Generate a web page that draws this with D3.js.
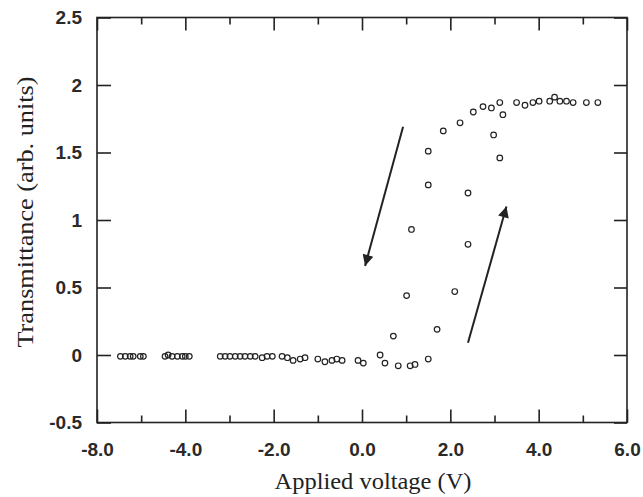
<!DOCTYPE html>
<html>
<head>
<meta charset="utf-8">
<script src="https://cdn.jsdelivr.net/npm/d3@7"></script>
<style>
  html, body { margin: 0; padding: 0; background: #fff; }
  svg { display: block; }
</style>
</head>
<body>
<div id="chart"></div>
<script>
// ---- data ----
// Increasing-voltage sweep
const upVoltage = [-5.47, -5.25, -5.02, -4.46, -4.30, -4.07, -3.91, -3.21, -2.99, -2.76, -2.53, -2.26, -2.03, -1.81, -1.56, -1.29, -1.00, -0.68, -0.45, 0.03, 0.52, 0.82, 1.09, 1.20, 1.50, 1.70, 2.10, 2.40, 2.40, 3.12, 2.98, 3.19, 3.50, 3.87, 4.25, 4.48, 4.78, 5.34];
const upTransmittance = [-0.01, -0.01, -0.01, -0.01, -0.01, -0.01, -0.01, -0.01, -0.01, -0.01, -0.01, -0.02, -0.01, -0.01, -0.04, -0.02, -0.03, -0.04, -0.04, -0.06, -0.06, -0.08, -0.08, -0.07, -0.03, 0.19, 0.47, 0.82, 1.20, 1.46, 1.63, 1.78, 1.87, 1.87, 1.88, 1.88, 1.87, 1.87];
// Decreasing-voltage sweep
const downVoltage = [5.08, 4.63, 4.36, 4.01, 3.69, 3.12, 2.93, 2.74, 2.52, 2.22, 1.84, 1.50, 1.50, 1.12, 1.01, 0.71, 0.41, -0.09, -0.57, -0.84, -1.40, -1.69, -2.15, -2.42, -2.65, -2.87, -3.10, -4.00, -4.18, -4.39, -4.95, -5.18, -5.36];
const downTransmittance = [1.87, 1.88, 1.91, 1.88, 1.85, 1.87, 1.83, 1.84, 1.80, 1.72, 1.66, 1.51, 1.26, 0.93, 0.44, 0.14, 0.00, -0.04, -0.03, -0.05, -0.03, -0.02, -0.01, -0.01, -0.01, -0.01, -0.01, -0.01, -0.01, 0.00, -0.01, -0.01, -0.01];

// Sweep-direction arrows: start and tip, in data units
const arrowStart = [[0.93, 1.69], [2.40, 0.09]];
const arrowEnd = [[0.07, 0.66], [3.27, 1.10]];

// Axes
const xDomain = [-6, 6];
const yDomain = [-0.5, 2.5];
const xMajorTicks = [-6, -4, -2, 0, 2, 4, 6];
const xTickLabels = ["-8.0", "-4.0", "-2.0", "0.0", "2.0", "4.0", "6.0"];
const xMinorTicks = [-5, -3, -1, 1, 3, 5];
const yTicks = [-0.5, 0, 0.5, 1, 1.5, 2, 2.5];
const yTickLabels = ["-0.5", "0", "0.5", "1", "1.5", "2", "2.5"];
const xTitle = "Applied voltage (V)";
const yTitle = "Transmittance (arb. units)";

// ---- layout ----
const W = 643, H = 497;
const pL = 97, pR = 627, pT = 17.5, pB = 422.5;

const svg = d3.select("#chart").append("svg")
  .attr("width", W).attr("height", H);

const x = d3.scaleLinear().domain(xDomain).range([pL, pR]);
const y = d3.scaleLinear().domain(yDomain).range([pB, pT]);

const ink = "#222";
const tickInk = "#2a2a2a";
const tickFont = "'Liberation Sans', Arial, sans-serif";

// Frame
svg.append("rect")
  .attr("x", pL).attr("y", pT)
  .attr("width", pR - pL).attr("height", pB - pT)
  .attr("fill", "none").attr("stroke", ink).attr("stroke-width", 1.6);

const majorLen = 13, minorLen = 7;

function styleTicks(g) {
  g.select(".domain").remove();
  g.selectAll(".tick line").attr("stroke", ink).attr("stroke-width", 1.6);
}

// Bottom axis (ticks inward)
const gxB = svg.append("g").attr("transform", `translate(0,${pB})`)
  .call(d3.axisBottom(x).tickValues(xMajorTicks)
    .tickSize(-majorLen).tickPadding(20)
    .tickFormat((d, i) => xTickLabels[i]));
styleTicks(gxB);
gxB.selectAll(".tick text")
  .attr("font-family", tickFont).attr("font-size", 19).attr("font-weight", "bold")
  .attr("fill", tickInk);

styleTicks(svg.append("g").attr("transform", `translate(0,${pB})`)
  .call(d3.axisBottom(x).tickValues(xMinorTicks).tickSize(-minorLen).tickFormat("")));

// Top axis (ticks inward, no labels)
styleTicks(svg.append("g").attr("transform", `translate(0,${pT})`)
  .call(d3.axisTop(x).tickValues(xMajorTicks).tickSize(-majorLen).tickFormat("")));
styleTicks(svg.append("g").attr("transform", `translate(0,${pT})`)
  .call(d3.axisTop(x).tickValues(xMinorTicks).tickSize(-minorLen).tickFormat("")));

// Left axis
const gyL = svg.append("g").attr("transform", `translate(${pL},0)`)
  .call(d3.axisLeft(y).tickValues(yTicks).tickSize(-majorLen - 1).tickPadding(15)
    .tickFormat((d, i) => yTickLabels[i]));
styleTicks(gyL);
gyL.selectAll(".tick text")
  .attr("font-family", tickFont).attr("font-size", 19).attr("font-weight", "bold")
  .attr("fill", tickInk);

// Right axis
styleTicks(svg.append("g").attr("transform", `translate(${pR},0)`)
  .call(d3.axisRight(y).tickValues(yTicks).tickSize(-majorLen).tickFormat("")));

// Axis titles
svg.append("text")
  .attr("x", 373).attr("y", 489)
  .attr("text-anchor", "middle")
  .attr("font-family", "'Liberation Serif', 'Times New Roman', serif")
  .attr("font-size", 24).attr("fill", ink)
  .attr("textLength", 197).attr("lengthAdjust", "spacingAndGlyphs")
  .text(xTitle);

svg.append("text")
  .attr("transform", "translate(33,212) rotate(-90)")
  .attr("text-anchor", "middle")
  .attr("font-family", "'Liberation Serif', 'Times New Roman', serif")
  .attr("font-size", 24).attr("fill", ink)
  .attr("textLength", 271).attr("lengthAdjust", "spacingAndGlyphs")
  .text(yTitle);

// Data markers
const upPts = upVoltage.map((v, i) => [v, upTransmittance[i]]);
const downPts = downVoltage.map((v, i) => [v, downTransmittance[i]]);

svg.append("g").selectAll("circle").data(upPts.concat(downPts)).join("circle")
  .attr("cx", d => x(d[0])).attr("cy", d => y(d[1]))
  .attr("r", 2.8)
  .attr("fill", "none").attr("stroke", ink).attr("stroke-width", 1.2);

// Arrows
const defs = svg.append("defs");
defs.append("marker")
  .attr("id", "arrowhead")
  .attr("viewBox", "0 0 10 10")
  .attr("refX", 10).attr("refY", 5)
  .attr("markerWidth", 7).attr("markerHeight", 5.5)
  .attr("markerUnits", "strokeWidth")
  .attr("orient", "auto")
  .append("path").attr("d", "M0,0 L10,5 L0,10 Z").attr("fill", ink);

svg.append("g").selectAll("line").data(arrowStart).join("line")
  .attr("x1", d => x(d[0])).attr("y1", d => y(d[1]))
  .attr("x2", (d, i) => x(arrowEnd[i][0])).attr("y2", (d, i) => y(arrowEnd[i][1]))
  .attr("stroke", ink).attr("stroke-width", 2)
  .attr("marker-end", "url(#arrowhead)");
</script>
</body>
</html>
